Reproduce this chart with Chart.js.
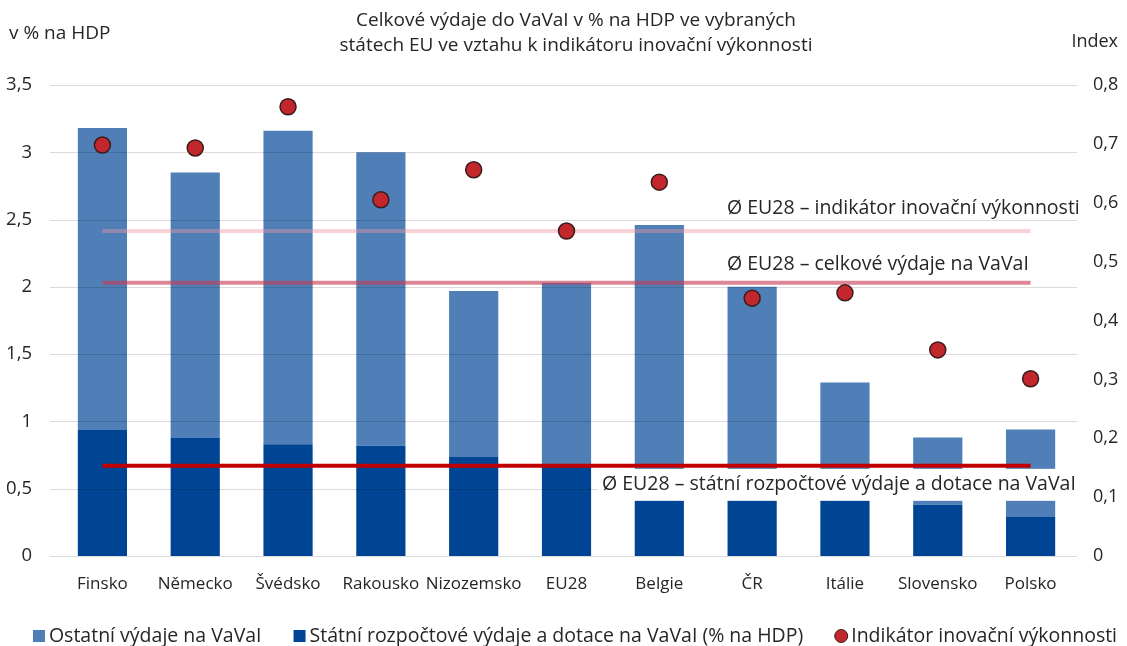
<!DOCTYPE html>
<html><head><meta charset="utf-8">
<script src="https://cdn.jsdelivr.net/npm/chart.js@4"></script>
<style>html,body{margin:0;padding:0;background:#fff}#wrap{width:1127px;height:646px}</style>
</head><body><div id="wrap"><canvas id="c" width="1127" height="646"></canvas></div>
<script>
const categories = ['Finsko','Německo','Švédsko','Rakousko','Nizozemsko','EU28','Belgie','ČR','Itálie','Slovensko','Polsko'];
const stateSpending = [0.94,0.88,0.83,0.82,0.74,0.67,0.55,0.60,0.50,0.38,0.29];
const otherSpending = [2.24,1.97,2.33,2.18,1.23,1.36,1.91,1.40,0.79,0.50,0.65];
const innovationIndex = [0.698,0.693,0.763,0.605,0.656,0.552,0.635,0.438,0.447,0.350,0.301];
const avgTotal = 2.03;
const avgState = 0.67;
const avgIndex = 0.552;
const leftTicks = [0,0.5,1,1.5,2,2.5,3,3.5];
const rightTicks = [0,0.1,0.2,0.3,0.4,0.5,0.6,0.7,0.8];
const titleLines = ['Celkové výdaje do VaVaI v % na HDP ve vybraných','státech EU ve vztahu k indikátoru inovační výkonnosti'];
const legendLabels = ['Ostatní výdaje na VaVaI','Státní rozpočtové výdaje a dotace na VaVaI (% na HDP)','Indikátor inovační výkonnosti'];
const refLabels = ['Ø EU28 – indikátor inovační výkonnosti','Ø EU28 – celkové výdaje na VaVaI','Ø EU28 – státní rozpočtové výdaje a dotace na VaVaI'];

const FONT = '"Open Sans", "Noto Sans", sans-serif';
const TXT = '#262626';
const LIGHT = '#4f7fb6';
const DARK = '#004494';
const DOT = '#c1272d';
const fmt = v => String(+v.toFixed(2)).replace('.', ',');

let gridDrawn = false;
const decor = {
  id: 'decor',
  beforeDatasetsDraw() { gridDrawn = false; },
  beforeDatasetDraw(chart, args) {
    if (gridDrawn || args.meta.type !== 'line') return;
    gridDrawn = true;
    const ctx = chart.ctx, y = chart.scales.y, a = chart.chartArea;
    ctx.save();
    ctx.strokeStyle = 'rgba(0,0,0,0.14)';
    ctx.lineWidth = 1;
    leftTicks.forEach(v => {
      const py = Math.round(y.getPixelForValue(v)) + 0.5;
      ctx.beginPath(); ctx.moveTo(50, py); ctx.lineTo(a.right, py); ctx.stroke();
    });
    ctx.restore();
  },
  afterDatasetsDraw(chart) {
    const ctx = chart.ctx, y = chart.scales.y, y1 = chart.scales.y1, a = chart.chartArea;
    ctx.save();
    ctx.textBaseline = 'middle';
    ctx.fillStyle = TXT;
    ctx.font = '19.5px ' + FONT;
    // reference line labels
    ctx.textAlign = 'left';
    ctx.fillText(refLabels[0], 727, y1.getPixelForValue(avgIndex) - 23);
    ctx.fillText(refLabels[1], 727, y.getPixelForValue(avgTotal) - 18);
    const sy = y.getPixelForValue(avgState);
    ctx.fillStyle = '#fff';
    ctx.fillRect(598, sy + 3, a.right - 598, 32);
    ctx.fillStyle = TXT;
    ctx.fillText(refLabels[2], 602, sy + 19);
    // title
    ctx.textAlign = 'center';
    ctx.font = '19px ' + FONT;
    ctx.fillText(titleLines[0], 576, 21);
    ctx.fillText(titleLines[1], 576, 46);
    // axis titles
    ctx.textAlign = 'left';
    ctx.font = '19px ' + FONT;
    ctx.fillText('v % na HDP', 9, 34);
    ctx.textAlign = 'right';
    ctx.font = '18px ' + FONT;
    ctx.fillText('Index', 1118, 42);
    // legend
    ctx.font = '19.5px ' + FONT;
    ctx.textAlign = 'left';
    const box = 12, gap = 4, sep = 32;
    const widths = legendLabels.map(t => box + gap + ctx.measureText(t).width);
    const total = widths.reduce((s, w) => s + w, 0) + sep * (widths.length - 1);
    let x = 575 - total / 2;
    const ly = 636;
    const colors = [LIGHT, DARK, DOT];
    legendLabels.forEach((t, i) => {
      if (i < 2) {
        ctx.fillStyle = colors[i];
        ctx.fillRect(x, ly - box / 2, box, box);
      } else {
        ctx.beginPath();
        ctx.arc(x + box / 2, ly, 6.5, 0, Math.PI * 2);
        ctx.fillStyle = DOT; ctx.fill();
        ctx.lineWidth = 1; ctx.strokeStyle = '#3b1c1c'; ctx.stroke();
      }
      ctx.fillStyle = TXT;
      ctx.fillText(t, x + box + gap, ly);
      x += widths[i] + sep;
    });
    ctx.restore();
  }
};

new Chart(document.getElementById('c'), {
  data: {
    labels: categories,
    datasets: [
      { type: 'bar', label: legendLabels[1], data: stateSpending, backgroundColor: DARK, stack: 's', yAxisID: 'y', order: 3, barPercentage: 0.53, categoryPercentage: 1 },
      { type: 'bar', label: legendLabels[0], data: otherSpending, backgroundColor: LIGHT, stack: 's', yAxisID: 'y', order: 3, barPercentage: 0.53, categoryPercentage: 1 },
      { type: 'line', label: 'avgIndex', data: categories.map(() => avgIndex), yAxisID: 'y1', stack: 'l1', borderColor: 'rgba(235,150,165,0.42)', borderWidth: 4, pointRadius: 0, order: 2 },
      { type: 'line', label: 'avgTotal', data: categories.map(() => avgTotal), yAxisID: 'y', stack: 'l2', borderColor: 'rgba(200,60,85,0.62)', borderWidth: 4, pointRadius: 0, order: 2 },
      { type: 'line', label: 'avgState', data: categories.map(() => avgState), yAxisID: 'y', stack: 'l3', borderColor: '#c00000', borderWidth: 4, pointRadius: 0, order: 2 },
      { type: 'line', label: legendLabels[2], data: innovationIndex, yAxisID: 'y1', stack: 'l4', showLine: false, pointRadius: 8, pointHoverRadius: 8, pointBackgroundColor: DOT, pointBorderColor: '#3b1c1c', pointBorderWidth: 1.5, order: 1 }
    ]
  },
  options: {
    responsive: false,
    animation: false,
    devicePixelRatio: 1,
    layout: { padding: { top: 85, bottom: 50, left: 0, right: 0 } },
    plugins: { legend: { display: false }, title: { display: false }, tooltip: { enabled: false } },
    scales: {
      x: {
        stacked: true,
        grid: { display: false }, border: { display: false },
        ticks: { color: TXT, font: { family: FONT, size: 17 }, padding: 10, maxRotation: 0, autoSkip: false },
        afterFit: s => { s.height = 40; }
      },
      y: {
        position: 'left', stacked: true, min: 0, max: 3.5,
        grid: { display: false }, border: { display: false },
        afterBuildTicks: s => { s.ticks = leftTicks.map(v => ({ value: v })); },
        ticks: { color: TXT, font: { family: FONT, size: 18.5 }, padding: 16, callback: v => fmt(v) },
        afterFit: s => { s.width = 56; }
      },
      y1: {
        position: 'right', min: 0, max: 0.8,
        grid: { display: false }, border: { display: false },
        afterBuildTicks: s => { s.ticks = rightTicks.map(v => ({ value: v })); },
        ticks: { color: TXT, font: { family: FONT, size: 18 }, padding: 8, callback: v => fmt(v) },
        afterFit: s => { s.width = 50; }
      }
    }
  },
  plugins: [decor]
});
</script>
</body></html>
